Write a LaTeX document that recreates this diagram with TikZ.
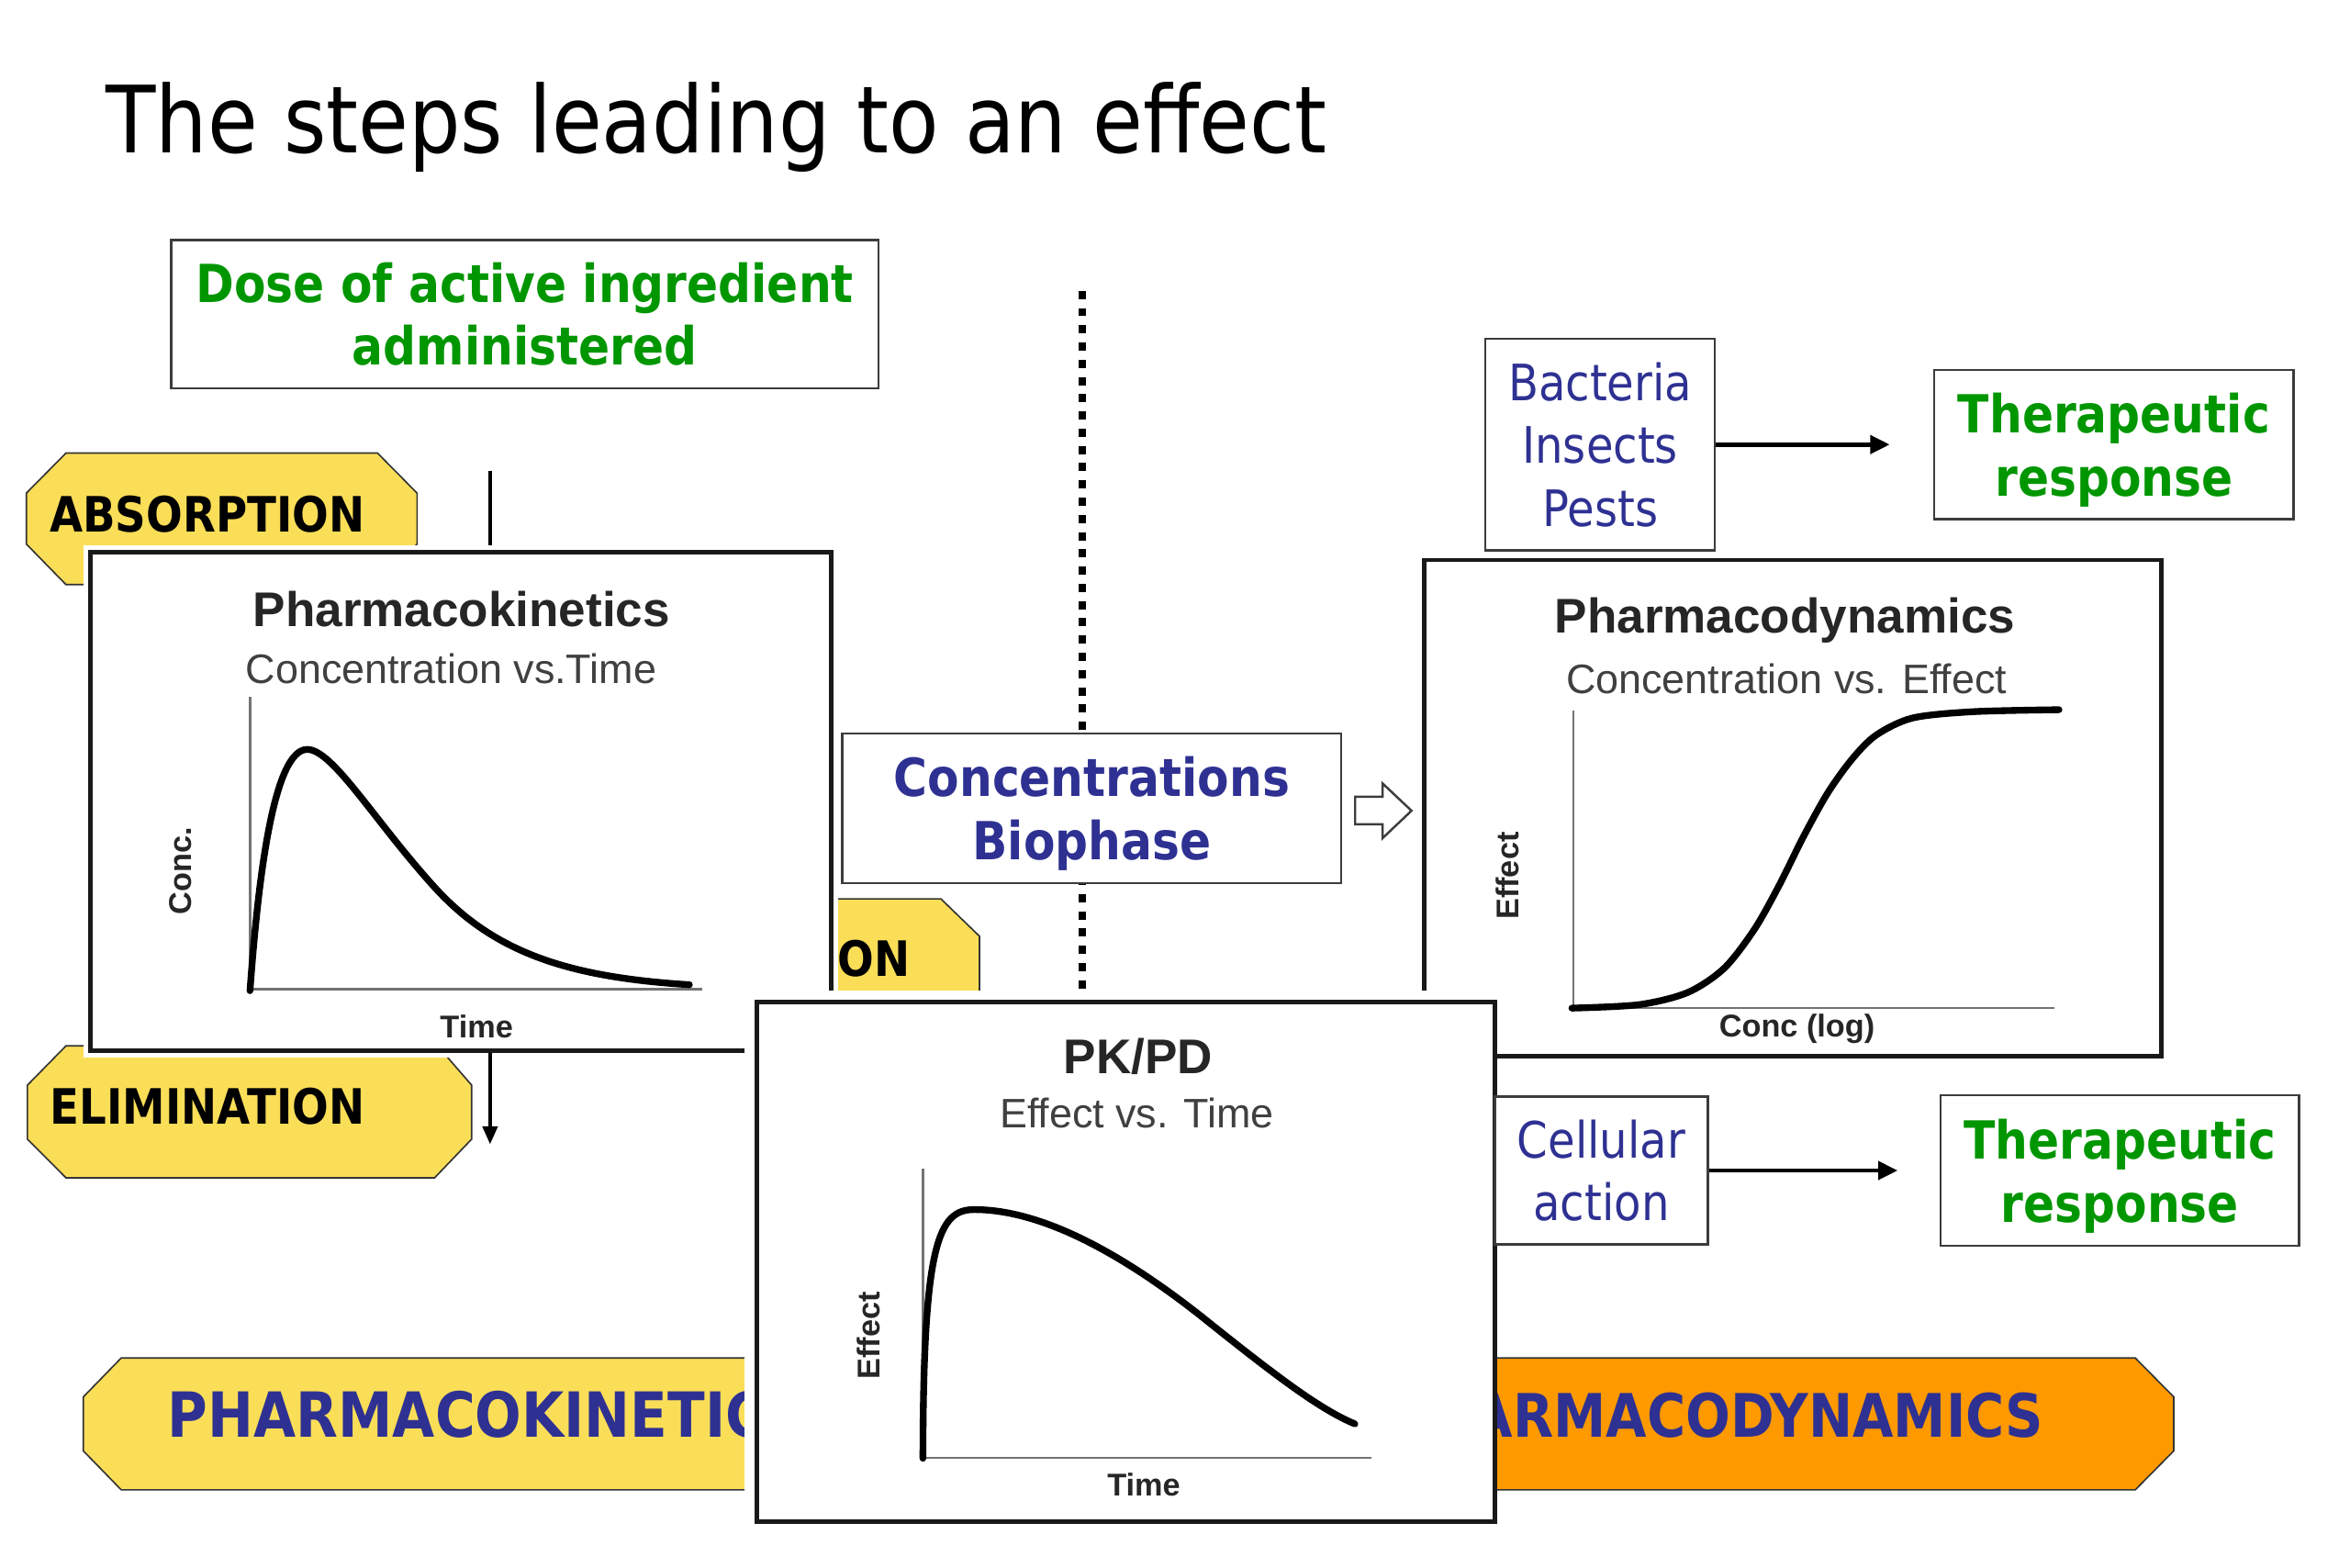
\documentclass[tikz,border=0pt]{standalone}
\usepackage{fontspec}
\usepackage{xcolor}
\usepackage{tikz}
\usetikzlibrary{arrows.meta,positioning}
\newfontfamily\tahoma[FakeStretch=0.88]{DejaVu Sans}
\newfontfamily\arial{Liberation Sans}
\definecolor{tagyellow}{RGB}{250,222,88}
\definecolor{pdorange}{RGB}{255,153,0}
\definecolor{navy}{RGB}{46,49,146}
\definecolor{leafgreen}{RGB}{0,150,0}
\definecolor{inkgray}{RGB}{60,60,60}

\begin{document}
\begin{tikzpicture}[
    x=1pt, y=-1pt,
    headline/.style={font=\tahoma\fontsize{62}{70}\selectfont, inner sep=0pt, anchor=base west},
    txtbox/.style={draw=inkgray, line width=1.5pt, fill=white, align=center, inner sep=0pt},
    goal/.style={txtbox, text=leafgreen, font=\tahoma\bfseries\fontsize{35}{42}\selectfont},
    target/.style={txtbox, text=navy, font=\tahoma\fontsize{33.5}{42}\selectfont},
    phase/.style={draw=black!80, line width=1pt, fill=tagyellow},
    tagtext/.style={font=\tahoma\bfseries\fontsize{32.5}{36}\selectfont, inner sep=0pt, anchor=west},
    bartext/.style={font=\tahoma\bfseries\fontsize{41.5}{46}\selectfont, text=navy, inner sep=0pt},
    chart/.style={draw=black!90, line width=3pt, fill=white},
    charttitle/.style={font=\arial\bfseries\fontsize{32.5}{38}\selectfont, text=black!85, inner sep=0pt},
    chartsub/.style={font=\arial\fontsize{27.5}{32}\selectfont, text=black!75, inner sep=0pt},
    axislabel/.style={font=\arial\bfseries\fontsize{21}{24}\selectfont, text=black!85, inner sep=0pt},
    axisline/.style={draw=black!55, line width=1.5pt},
    curve/.style={line width=4.5pt, line cap=round, line join=round},
    line/.style={-{Triangle[length=13pt, width=12pt]}, line width=3pt},
    divider/.style={line width=5pt, dash pattern=on 5.5pt off 6pt}
  ]
  \path[use as bounding box, fill=white] (0,0) rectangle (1568,1046);

  % title
  \node[headline] (title) at (70.3,101.9) {The steps leading to an effect};

  % dose and divider
  \node[goal, minimum width=472pt, minimum height=99pt] (dose) at (350.2,209.7) {Dose of active ingredient\\administered};
  \coordinate (divTop) at (722,194);
  \draw[divider] (divTop) -- ++(0,467);

  % phase tags behind the charts
  \draw[phase] (17.6,329) -- (44,302.3) -- (251.9,302.3) -- (278.3,329) -- (278.3,363) -- (251.9,390) -- (44,390) -- (17.6,363) -- cycle;
  \node[tagtext] (absorption) at (33,343.3) {ABSORPTION};
  \draw[phase] (18.3,724) -- (44,697.8) -- (292,697.8) -- (314.7,724) -- (314.7,760) -- (290,785.8) -- (44,785.8) -- (18.3,760) -- cycle;
  \node[tagtext] (elimination) at (33.4,738.3) {ELIMINATION};
  \draw[phase] (540,599.7) -- (627.8,599.7) -- (653.5,624.6) -- (653.5,680) -- (540,680) -- cycle;
  \node[tagtext] (distribution) at (558.6,639.6) {ON};

  % bottom bars
  \draw[phase] (80.9,906) -- (760,906) -- (760,994) -- (80.9,994) -- (55.6,968) -- (55.6,932) -- cycle;
  \node[bartext, anchor=west] (pkbar) at (111.8,944) {PHARMACOKINETIC};
  \draw[phase, fill=pdorange] (740,906) -- (1424.7,906) -- (1450.4,932) -- (1450.4,968) -- (1424.7,994) -- (740,994) -- cycle;
  \node[bartext, font=\tahoma\bfseries\fontsize{40}{46}\selectfont, anchor=east] (pdbar) at (1363.6,944) {ARMACODYNAMICS};

  % pharmacokinetics chart
  \coordinate (absTop) at (327,314);
  \draw[line width=2.5pt] (absTop) -- ++(0,50);
  \node[chart, minimum width=494pt, minimum height=332.6pt, preaction={draw=white, line width=9pt}] (pk) at (307.4,534.8) {};
  \node[charttitle] (pkTitle) at (308,406.6) {Pharmacokinetics};
  \node[chartsub] (pkSub) at (301,446) {Concentration vs.Time};
  \draw[axisline] (166.8,465) -- (166.8,660) -- (468.5,660);
  \draw[curve] (166.8,661) .. controls (172,590) and (182,500) .. (205,500)
    .. controls (222,500) and (250,548) .. (290,592)
    .. controls (330,636) and (380,652) .. (460,657);
  \node[axislabel, rotate=90] (pkY) at (120.3,581) {Conc.};
  \node[axislabel] (pkX) at (318,685) {Time};
  \coordinate (elimEnd) at (327,763.4);
  \draw[line, line width=2.2pt, -{Triangle[length=12pt, width=10pt]}] (pk.south -| elimEnd) -- (elimEnd);

  % concentrations in the biophase
  \node[target, font=\tahoma\bfseries\fontsize{35}{42}\selectfont, text depth=0pt, minimum width=333pt, minimum height=99.6pt] (conc) at (728.5,539.3) {Concentrations\\Biophase};
  \draw[draw=inkgray, line width=1.5pt, fill=white, line join=miter] (904.2,531.6) -- (922.5,531.6) -- (922.5,522.7) -- (941.8,540.9) -- (922.5,559.2) -- (922.5,550) -- (904.2,550) -- cycle;

  % targets and responses
  \node[target, minimum width=153pt, minimum height=141pt] (bact) at (1067.65,296.6) {Bacteria\\Insects\\Pests};
  \node[goal, text depth=0pt, minimum width=239.7pt, minimum height=99.8pt, right=145pt of bact] (ther1) {Therapeutic\\response};
  \draw[line, shorten >=29pt] (bact.east) -- (bact.east -| ther1.west);

  % pharmacodynamics chart
  \node[chart, minimum width=491.5pt, minimum height=330.8pt] (pd) at (1196.25,539) {};
  \node[charttitle] (pdTitle) at (1191,414.2) {Pharmacodynamics};
  \node[chartsub] (pdSub) at (1192,453) {Concentration vs. Effect};
  \draw[axisline] (1049.7,474) -- (1049.7,672.6) -- (1370.6,672.6);
  \draw[curve] plot[smooth] coordinates {(1048.8,672.6) (1093.5,670.3) (1126,662.2) (1150.4,646) (1170.6,620) (1187,590.9) (1203.2,558.4) (1219.4,529.2) (1235.7,506.5) (1251.9,490.4) (1276.3,479) (1316.9,474.8) (1373.8,473.5)};
  \node[axislabel, rotate=90] (pdY) at (1006,584.4) {Effect};
  \node[axislabel] (pdX) at (1199,686.5) {Conc (log)};

  % pk/pd chart on top
  \fill[white] (497,661) rectangle (997.7,1015.4);
  \node[chart, minimum width=492.9pt, minimum height=346.9pt] (pkpd) at (751.25,841.95) {};
  \node[charttitle] (pkpdTitle) at (759.5,704.8) {PK/PD};
  \node[chartsub] (pkpdSub) at (758.5,742.4) {Effect vs. Time};
  \draw[axisline] (615.8,780) -- (615.8,972.6) -- (915,972.6);
  \draw[curve] (615.8,973) .. controls (616,830) and (626,807) .. (650,807)
    .. controls (690,807) and (740,830) .. (800,877)
    .. controls (850,917) and (880,940) .. (904,950);
  \node[axislabel, rotate=90] (pkpdY) at (579.8,891) {Effect};
  \node[axislabel] (pkpdX) at (763.2,990.8) {Time};

  \node[target, minimum width=142pt, minimum height=98.5pt] (cell) at (1068.45,780.95) {Cellular\\action};
  \node[goal, text depth=0pt, minimum width=239pt, minimum height=100.5pt, right=154pt of cell] (ther2) {Therapeutic\\response};
  \draw[line, shorten >=28pt] (cell.east) -- (cell.east -| ther2.west);
\end{tikzpicture}
\end{document}
